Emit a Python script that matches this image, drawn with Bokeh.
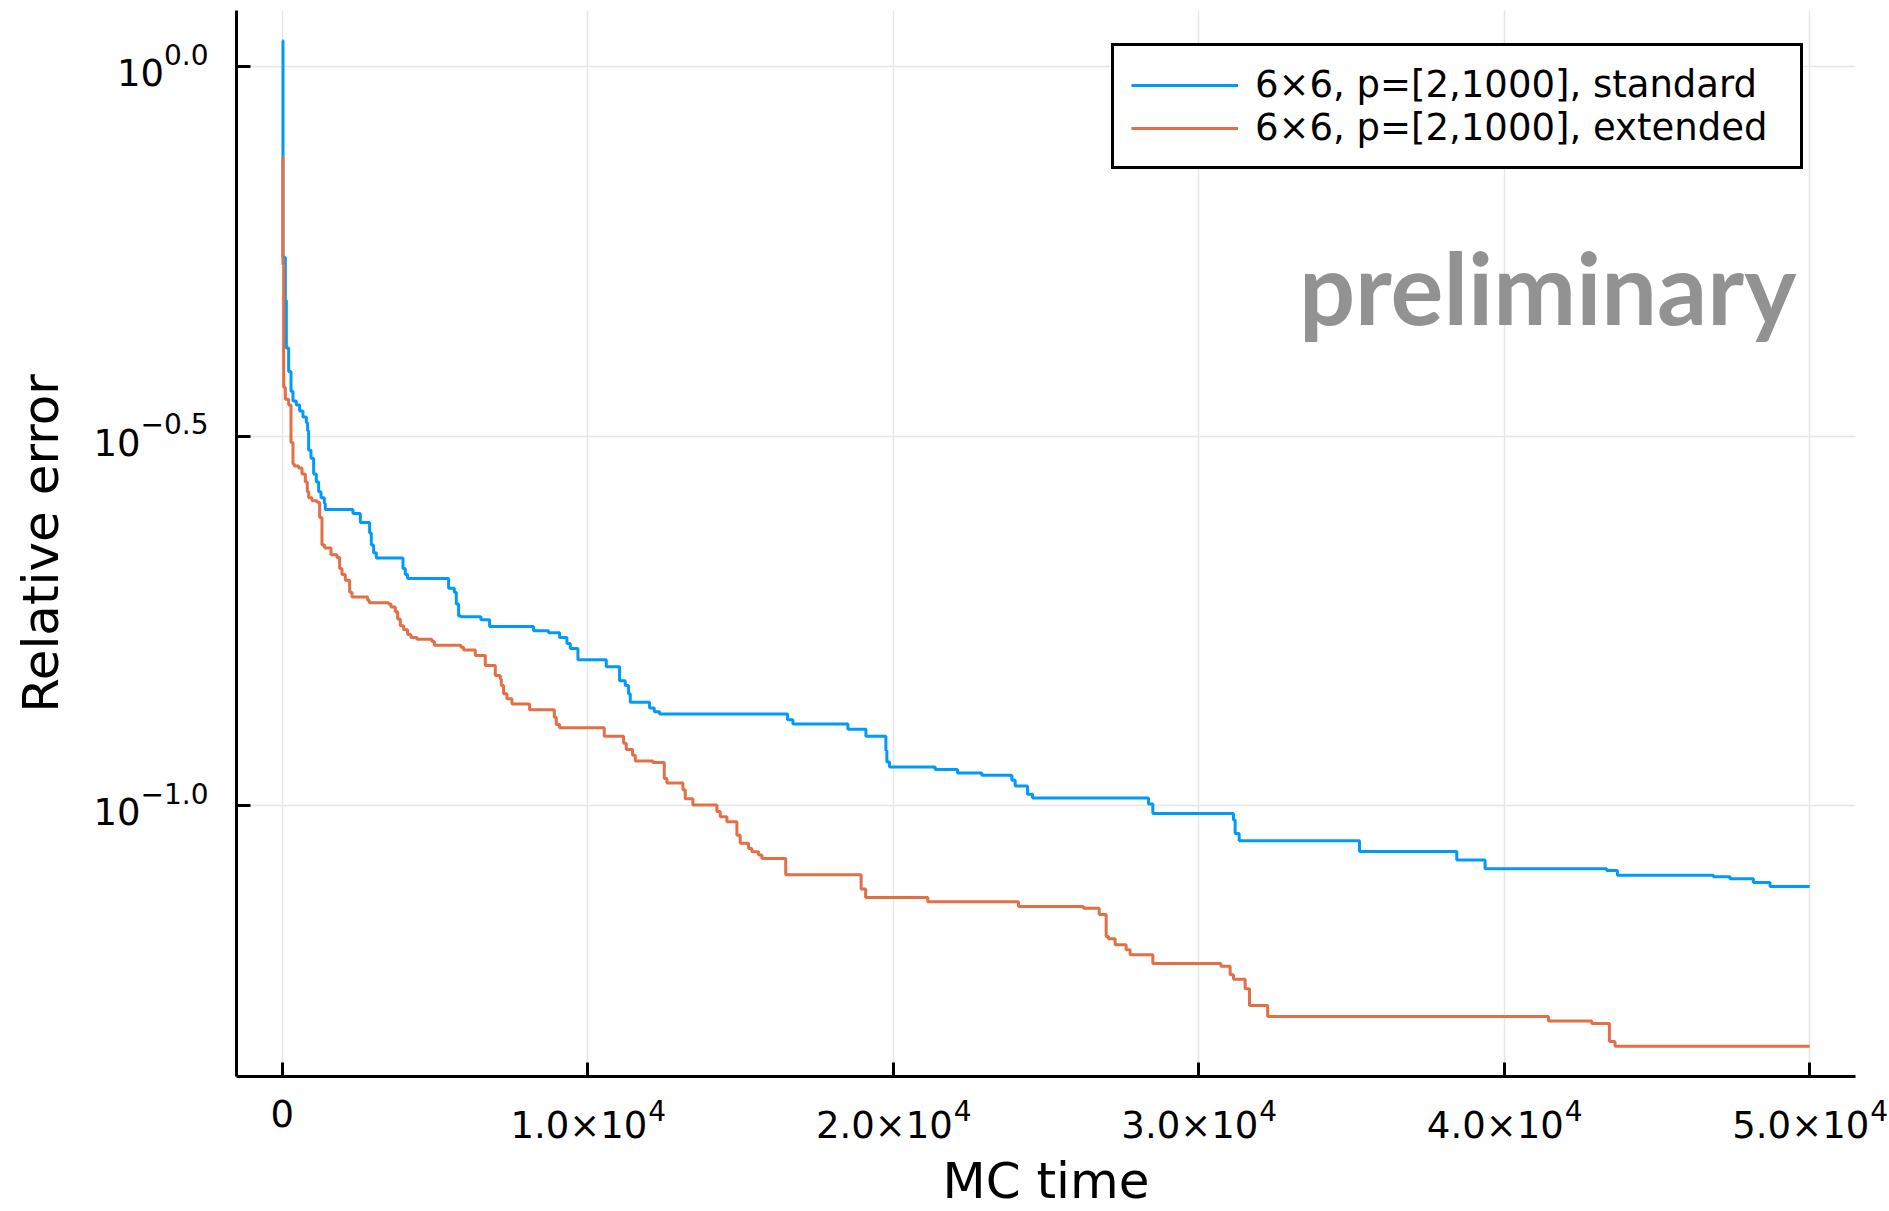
import math
from bokeh.plotting import figure
from bokeh.layouts import column, row
from bokeh.models import Range1d, FixedTicker, Label, CustomJSTickFormatter, ColumnDataSource
from bokeh.core.properties import value
from bokeh.embed import file_html
from bokeh.resources import INLINE

# ---------------- data ----------------
mc_std = [0, 22, 98, 131, 207, 284, 349, 458, 567, 676,
          786, 829, 862, 938, 1026, 1113, 1189, 1266, 1375, 1407,
          2313, 2553, 2858, 2913, 2989, 3077, 3950, 4026, 4102, 5444,
          5630, 5695, 5771, 5848, 6502, 6786, 8226, 8717, 9077, 9317,
          9426, 9677, 10605, 11041, 11226, 11335, 11390, 12022, 12176, 12350,
          16540, 16715, 18515, 19104, 19758, 19791, 19878, 21373, 22103, 22900,
          23882, 23991, 24394, 24559, 28356, 28498, 31137, 31192, 31323, 35262,
          38447, 39374, 43358, 43705, 46848, 47393, 48157, 48702, 50000]
err_std = [1.084, 0.552, 0.4825, 0.4163, 0.3868, 0.3638, 0.3528, 0.3485, 0.3422, 0.3358,
           0.3297, 0.3218, 0.3027, 0.2953, 0.2811, 0.2743, 0.2660, 0.2612, 0.2564, 0.2518,
           0.2487, 0.2417, 0.2339, 0.2254, 0.2200, 0.2165, 0.2095, 0.2056, 0.2031, 0.1970,
           0.1945, 0.1875, 0.1807, 0.1803, 0.1786, 0.1749, 0.1725, 0.1715, 0.1690, 0.1659,
           0.1633, 0.1576, 0.1543, 0.1477, 0.1455, 0.1418, 0.1381, 0.1357, 0.1341, 0.1332,
           0.1308, 0.1291, 0.1270, 0.1242, 0.1189, 0.1147, 0.1129, 0.1120, 0.1108, 0.1100,
           0.1083, 0.1064, 0.1037, 0.1025, 0.1006, 0.0977, 0.0957, 0.0918, 0.0897, 0.0868,
           0.0845, 0.0822, 0.0818, 0.0806, 0.0802, 0.0797, 0.0788, 0.0778, 0.0778]

mc_ext = [0, 20, 44, 98, 207, 284, 349, 393, 535, 644,
          753, 818, 862, 971, 1135, 1222, 1298, 1386, 1593, 1789,
          1876, 1953, 2062, 2204, 2280, 2793, 2847, 3480, 3557, 3699,
          3775, 3862, 3972, 4102, 4211, 4408, 4899, 4975, 5848, 5935,
          6317, 6644, 6971, 7135, 7168, 7244, 7353, 7517, 8095, 8903,
          8968, 9077, 10539, 11172, 11259, 11466, 11554, 12132, 12503, 12590,
          13114, 13190, 13441, 14226, 14336, 14554, 14881, 14990, 15263, 15372,
          15590, 15699, 16480, 18948, 19095, 21131, 24100, 26227, 26741, 26970,
          27045, 27264, 27624, 27755, 28498, 30723, 31028, 31137, 31519, 31661,
          32257, 41448, 42866, 43444, 43628, 50000]
err_ext = [0.7546, 0.54, 0.3684, 0.3548, 0.3485, 0.3101, 0.2900, 0.2882, 0.2864, 0.2811,
           0.2743, 0.2660, 0.2612, 0.2586, 0.2574, 0.2456, 0.2254, 0.2233, 0.2187, 0.2168,
           0.2095, 0.2056, 0.2019, 0.1945, 0.1917, 0.1898, 0.1883, 0.1875, 0.1858, 0.1831,
           0.1790, 0.1753, 0.1731, 0.1706, 0.1690, 0.1680, 0.1669, 0.1649, 0.1639, 0.1625,
           0.1597, 0.1548, 0.1501, 0.1485, 0.1455, 0.1418, 0.1396, 0.1374, 0.1349, 0.1318,
           0.1289, 0.1276, 0.1242, 0.1216, 0.1192, 0.1171, 0.1150, 0.1145, 0.1089, 0.1074,
           0.1052, 0.1023, 0.1003, 0.0983, 0.0967, 0.0952, 0.0913, 0.0890, 0.0876, 0.0867,
           0.0858, 0.0849, 0.0807, 0.0772, 0.0752, 0.0742, 0.0731, 0.0727, 0.0713, 0.0666,
           0.0661, 0.0649, 0.0639, 0.0629, 0.0612, 0.0607, 0.0591, 0.0583, 0.0566, 0.0537,
           0.0519, 0.0512, 0.0508, 0.0480, 0.0473, 0.0473]

series_labels = ["6×6, p=[2,1000], standard", "6×6, p=[2,1000], extended"]
series_colors = ["#009AFA", "#E36F47"]

xtick_values = [0, 10000, 20000, 30000, 40000, 50000]
xtick_mantissas = ["0", "1.0", "2.0", "3.0", "4.0", "5.0"]
xtick_powers = ["", "4", "4", "4", "4", "4"]
ytick_powers = [0.0, -0.5, -1.0]

x_label = "MC time"
y_label = "Relative error"
watermark = "preliminary"

# ---------------- layout constants / helpers ----------------
FONT = "DejaVu Sans"
TICK_PX = 37
EXP_PX = 28
TITLE_PX = 50
W, H = 1889, 1211
WL = 216            # width of the left strip (y tick labels + y title)
HT = 1081           # height of the top row
HB = H - HT         # bottom strip (x tick labels + x title)
FL, FR, FT, FB = 236, 34, 10, 5   # frame borders of the main plot
BASE_SHIFT = 0.37   # the renderer draws 'alphabetic' text this many em lower
ADV = {"0": 1303, "1": 1303, "2": 1303, "3": 1303, "4": 1303, "5": 1303,
       "6": 1303, "7": 1303, "8": 1303, "9": 1303, ".": 651, "\u2212": 1716, "×": 1716}


def text_w(s, px):
    return sum(ADV.get(c, 1303) for c in s) / 2048.0 * px


def fmt_pow(e):
    s = "%.1f" % abs(e)
    return ("\u2212" + s) if e < 0 else s


ytick_values = [10 ** e for e in ytick_powers]

all_x = mc_std + mc_ext
xlo, xhi = min(all_x), max(all_x)
xpad = 0.03 * (xhi - xlo)
x0, x1 = xlo - xpad, xhi + xpad
ly = [math.log10(v) for v in err_std + err_ext]
ylo, yhi = min(ly), max(ly)
ypad = 0.03 * (yhi - ylo)
y_range = Range1d(10 ** (ylo - ypad), 10 ** (yhi + ypad))

# ---------------- main plot ----------------
p = figure(width=W - WL, height=HT, y_axis_type="log",
           x_range=Range1d(x0, x1), y_range=y_range,
           output_backend="svg", toolbar_location=None, title=None,
           min_border_left=FL - WL, min_border_right=FR,
           min_border_top=FT, min_border_bottom=FB)
p.outline_line_color = None
p.background_fill_color = "white"
p.border_fill_color = "white"

for g in (p.xgrid, p.ygrid):
    g.grid_line_color = "#e6e6e6"
    g.grid_line_width = 1.5

p.xaxis.ticker = FixedTicker(ticks=xtick_values, minor_ticks=[])
p.yaxis.ticker = FixedTicker(ticks=ytick_values, minor_ticks=[])
for ax in (p.xaxis[0], p.yaxis[0]):
    ax.formatter = CustomJSTickFormatter(code="return ''")
    ax.major_label_text_font_size = "0px"
    ax.axis_line_width = 3
    ax.axis_line_color = "black"
    ax.major_tick_line_width = 3
    ax.major_tick_line_color = "black"
    ax.major_tick_in = 14
    ax.major_tick_out = 0
    ax.minor_tick_line_color = None

for xs, ys, lab, col in ((mc_std, err_std, series_labels[0], series_colors[0]),
                         (mc_ext, err_ext, series_labels[1], series_colors[1])):
    p.step(xs, ys, mode="after", line_width=3, line_color=col, legend_label=lab)

p.add_layout(Label(x=1560, y=790, x_units="screen", y_units="screen", text=watermark,
                   text_align="right", text_baseline="alphabetic",
                   text_font="Lato", text_font_style="bold", text_font_size="99px",
                   text_color="#929292"))

lg = p.legend[0]
lg.location = (875, 907)
lg.padding = 17
lg.spacing = 0
lg.margin = 0
lg.glyph_width = 107
lg.glyph_height = 20
lg.label_standoff = 17
lg.label_width = 528
lg.label_text_font = FONT
lg.label_text_font_size = "37px"
lg.label_text_color = "black"
lg.border_line_color = "black"
lg.border_line_alpha = 1.0
lg.border_line_width = 3
lg.background_fill_color = "white"
lg.background_fill_alpha = 1.0


def strip(width, height, xr, yr, yaxis_type="linear", top=0, bottom=0):
    f = figure(width=width, height=height, x_range=xr, y_range=yr, y_axis_type=yaxis_type,
               x_axis_location=None, y_axis_location=None,
               output_backend="svg", toolbar_location=None, title=None,
               min_border_left=0, min_border_right=0,
               min_border_top=top, min_border_bottom=bottom)
    f.outline_line_color = None
    f.background_fill_color = "white"
    f.border_fill_color = "white"
    for g in f.grid:
        g.visible = False
    return f


# ---------------- left strip: y tick labels and y title (shares the log y scale) ----------------
left = strip(WL, HT, Range1d(0, WL), y_range, "log", top=FT, bottom=FB)
lab_right = FL - 28
exp_txt = [fmt_pow(e) for e in ytick_powers]
ysrc = ColumnDataSource(dict(
    y=ytick_values, exp=exp_txt, base=["10"] * len(ytick_values),
    xe=[lab_right] * len(ytick_values),
    xb=[lab_right - text_w(s, EXP_PX) for s in exp_txt]))
left.text(x="xe", y="y", text="exp", source=ysrc, y_offset=-2 - BASE_SHIFT * EXP_PX,
          text_align="right", text_baseline="alphabetic",
          text_font=value(FONT), text_font_size="%dpx" % EXP_PX, text_color="black")
left.text(x="xb", y="y", text="base", source=ysrc, y_offset=19.5 - BASE_SHIFT * TICK_PX,
          text_align="right", text_baseline="alphabetic",
          text_font=value(FONT), text_font_size="%dpx" % TICK_PX, text_color="black")
ymid = 10 ** (((ylo - ypad) + (yhi + ypad)) / 2.0)
left.text(x=[59 - BASE_SHIFT * TITLE_PX], y=[ymid], text=[y_label], angle=math.pi / 2,
          text_align="center", text_baseline="alphabetic",
          text_font=value(FONT), text_font_size="%dpx" % TITLE_PX, text_color="black")

# ---------------- bottom strip: x tick labels and x title (same x scale) ----------------
k = (x1 - x0) / float(W - FL - FR)
bot = strip(W, HB, Range1d(x0 - FL * k, x1 + FR * k), Range1d(HB, 0))
zero_x = [t for t, e in zip(xtick_values, xtick_powers) if not e]
zero_t = [m for m, e in zip(xtick_mantissas, xtick_powers) if not e]
bot.text(x=zero_x, y=[1127 - HT - BASE_SHIFT * TICK_PX] * len(zero_x), text=zero_t,
         text_align="center", text_baseline="alphabetic",
         text_font=value(FONT), text_font_size="%dpx" % TICK_PX, text_color="black")
sx, sb, se, so = [], [], [], []
for t, m, e in zip(xtick_values, xtick_mantissas, xtick_powers):
    if e:
        base = m + "×10"
        wb, we = text_w(base, TICK_PX), text_w(e, EXP_PX)
        sx.append(t)
        sb.append(base)
        se.append(e)
        so.append(wb - (wb + we) / 2.0)
xsrc = ColumnDataSource(dict(x=sx, base=sb, exp=se, off=so, off2=[o + 1 for o in so],
                             yb=[1139 - HT - BASE_SHIFT * TICK_PX] * len(sx),
                             ye=[1120 - HT - BASE_SHIFT * EXP_PX] * len(sx)))
bot.text(x="x", y="yb", text="base", source=xsrc, x_offset="off",
         text_align="right", text_baseline="alphabetic",
         text_font=value(FONT), text_font_size="%dpx" % TICK_PX, text_color="black")
bot.text(x="x", y="ye", text="exp", source=xsrc, x_offset="off2",
         text_align="left", text_baseline="alphabetic",
         text_font=value(FONT), text_font_size="%dpx" % EXP_PX, text_color="black")
bot.text(x=[(x0 + x1) / 2.0], y=[1199 - HT - BASE_SHIFT * TITLE_PX], text=[x_label],
         text_align="center", text_baseline="alphabetic",
         text_font=value(FONT), text_font_size="%dpx" % TITLE_PX, text_color="black")

layout = column(row(left, p), bot)
open("out.html", "w").write(file_html(layout, INLINE))
